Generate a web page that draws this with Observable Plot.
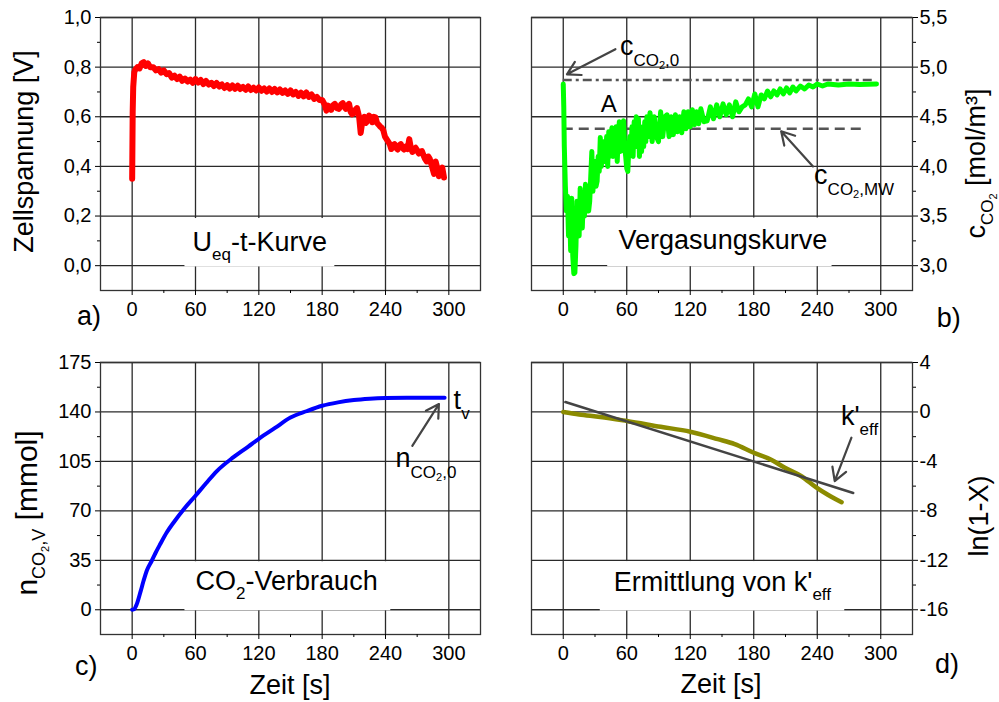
<!DOCTYPE html>
<html><head><meta charset="utf-8">
<script src="https://cdn.jsdelivr.net/npm/d3@7"></script>
<script src="https://cdn.jsdelivr.net/npm/@observablehq/plot@0.6"></script>
<style>
body{margin:0;background:#fff;}
#wrap{position:relative;width:999px;height:702px;overflow:hidden;background:#fff;}
#wrap svg{position:absolute;overflow:visible;}
</style></head><body><div id="wrap"></div>
<script>
// ---------- data ----------
const xTicks = [0, 60, 120, 180, 240, 300];
const xMinor = [30, 90, 150, 210, 270];

// a) cell voltage
const uTicks = [0, 0.2, 0.4, 0.6, 0.8, 1.0];
const uMinor = [0.1, 0.3, 0.5, 0.7, 0.9];
const uTime = [0,0.5,1,2,3,5,7,9,11,13,15,17,20,22.5,25,27.5,30,32.5,35,37.5,40,42.5,45,47.5,50,52.5,55,57.5,60,62.5,65,67.5,70,72.5,75,77.5,80,82.5,85,87.5,90,92.5,95,97.5,100,102.5,105,107.5,110,112.5,115,117.5,120,122.5,125,127.5,130,132.5,135,137.5,140,142.5,145,147.5,150,152.5,155,157.5,160,162.5,165,167.5,170,172.5,175,177.5,180,181,182.5,184,185.5,187,188.5,190,192,194,196,198,199.5,201,202.5,204,205.5,207,208.5,210,211.5,213,215,216.5,218,220,221.5,223,224.5,226,227.5,229,230.5,232,233.5,235,236.5,238,239.5,241,242.5,244,245.5,247,248.5,250,251.5,253,254.5,256,257.5,259,261,262.5,264,265.5,267,268.5,270,271.5,273,274.5,276,277.5,279,280.5,282,283,284,286,287.5,289,290.5,292,293.8,295.4];
const uVolt = [0.35,0.62,0.72,0.78,0.79,0.80,0.795,0.815,0.82,0.805,0.815,0.80,0.80,0.787,0.792,0.778,0.787,0.772,0.776,0.758,0.766,0.752,0.762,0.745,0.754,0.742,0.75,0.737,0.752,0.738,0.748,0.732,0.744,0.73,0.737,0.724,0.736,0.722,0.73,0.716,0.727,0.714,0.726,0.713,0.725,0.712,0.72,0.709,0.722,0.708,0.717,0.706,0.718,0.705,0.714,0.702,0.714,0.70,0.712,0.698,0.71,0.696,0.706,0.692,0.706,0.69,0.70,0.684,0.697,0.682,0.698,0.68,0.69,0.672,0.68,0.668,0.668,0.66,0.648,0.625,0.645,0.64,0.628,0.645,0.652,0.635,0.632,0.65,0.655,0.64,0.632,0.645,0.652,0.62,0.61,0.615,0.628,0.635,0.60,0.535,0.58,0.60,0.575,0.585,0.605,0.59,0.578,0.60,0.598,0.575,0.568,0.56,0.555,0.545,0.52,0.51,0.50,0.49,0.47,0.485,0.49,0.475,0.468,0.485,0.49,0.475,0.468,0.48,0.47,0.51,0.475,0.458,0.47,0.475,0.465,0.452,0.46,0.462,0.445,0.43,0.42,0.44,0.43,0.415,0.40,0.37,0.42,0.395,0.36,0.385,0.395,0.355];

// b) CO2 concentration
const cTicks = [3.0, 3.5, 4.0, 4.5, 5.0, 5.5];
const cMinor = [3.25, 3.75, 4.25, 4.75, 5.25];
const cTime = [0,0.5,1,2,3,4,5,6,7,8,9,10,11,12,13,14,15,16,17,18,19,20,21,22,23,24,25,26,27,28,29,30,31,32,33,34,35,36,37,38,39,40,41,42,43,44,45,46,47,48,49,50,51,52,53,54,55,56,57,58,59,60,61,62,63,64,65,66,67,68,69,70,71,72,73,74,75,76,77,78,79,80,82,84,86,88,90,92,94,96,98,100,102,104,106,108,110,112,114,116,118,120,122,124,126,128,130,133,136,139,142,145,148,151,154,157,160,163,166,169,172,175,178,181,184,187,190,193,196,199,202,205,208,211,214,217,220,224,228,232,236,240,245,250,260,270,280,296];
const cConc = [4.83,4.6,4.2,3.8,3.55,3.7,3.3,3.6,3.15,3.68,3.1,2.92,2.93,3.2,3.65,3.35,3.3,3.78,3.45,3.38,3.7,3.5,3.82,3.6,3.75,3.55,3.65,3.9,4.15,3.75,3.9,4.05,3.8,3.85,4.1,3.95,4.29,4.0,4.2,4.05,4.25,4.05,4.3,4.0,4.35,4.1,4.3,4.39,4.1,4.35,4.22,4.4,4.05,4.3,4.45,4.15,4.4,4.2,4.46,4.2,4.1,3.98,3.95,4.2,4.3,4.15,4.4,4.1,4.45,4.2,4.5,4.3,4.48,4.1,4.4,4.15,4.35,4.2,4.45,4.25,4.5,4.3,4.54,4.25,4.5,4.3,4.25,4.55,4.3,4.5,4.52,4.3,4.5,4.32,4.52,4.35,4.5,4.34,4.55,4.38,4.55,4.4,4.57,4.42,4.55,4.43,4.58,4.45,4.46,4.6,4.48,4.62,4.5,4.63,4.52,4.62,4.5,4.65,4.55,4.6,4.62,4.68,4.6,4.73,4.6,4.72,4.68,4.76,4.7,4.76,4.72,4.78,4.73,4.79,4.74,4.8,4.76,4.81,4.78,4.82,4.8,4.83,4.81,4.83,4.82,4.83,4.825,4.83];
const cStart = 4.87;   // c_CO2,0
const cMean = 4.38;    // c_CO2,MW

// c) CO2 consumption
const nTicks = [0, 35, 70, 105, 140, 175];
const nMinor = [17.5, 52.5, 87.5, 122.5, 157.5];
const nTime = [0,2,4.4,8,10.8,14,18.6,22,26.6,33,40,48.7,60,70,80,96,110,120,135,150,165,180,195,210,225,240,260,280,296];
const nMol  = [0,0.5,4,13,20.5,28,34.7,40,46.5,55,62.5,71,80.7,89.5,98,108,115.5,121,128.5,136,140.5,144.4,146.8,148.4,149.3,149.8,150,150,150];

// d) ln(1-X)
const lnTicks = [-16, -12, -8, -4, 0, 4];
const lnMinor = [-14, -10, -6, -2, 2];
const lnTime = [0,15,35,60,92,120,146,162,180,196,209,225,239,250,263];
const lnVal  = [0,-0.2,-0.4,-0.73,-1.2,-1.6,-2.2,-2.6,-3.3,-3.84,-4.5,-5.2,-6.1,-6.7,-7.3];
const fitTime = [2, 274];
const fitVal  = [0.8, -6.55];

// ---------- helpers ----------
const FONT = '"Liberation Sans", Arial, Helvetica, sans-serif';
const GRID = "#2a2a2a";
const wrap = document.getElementById("wrap");
const zipTV = (ts, vs) => ts.map((t, i) => ({t, v: vs[i]}));
const comma = d => d.toFixed(1).replace(".", ",");

function rich(svg, x, y, parts, anchor = "start", rotate = 0) {
  const t = d3.select(svg).append("text")
    .attr("transform", `translate(${x},${y})` + (rotate ? ` rotate(${rotate})` : ""))
    .attr("text-anchor", anchor).attr("font-family", FONT).attr("fill", "#000")
    .style("white-space", "pre");
  let prev = 0;
  for (const [txt, size, shift = 0] of parts) {
    t.append("tspan").attr("font-size", size).attr("dy", shift - prev).text(txt);
    prev = shift;
  }
}

function panel(cfg) {
  const plot = Plot.plot({
    width: cfg.w, height: cfg.h,
    marginLeft: cfg.ml, marginRight: cfg.mr, marginTop: cfg.mt, marginBottom: cfg.mb,
    style: {fontFamily: FONT, background: "transparent", color: "#000"},
    x: {domain: [-30, 330]},
    y: {domain: cfg.yDomain},
    marks: [
      Plot.gridX({ticks: xTicks, stroke: GRID, strokeOpacity: 1, strokeWidth: 1.3}),
      Plot.gridY({ticks: cfg.yTicks, stroke: GRID, strokeOpacity: 1, strokeWidth: 1.3}),
      Plot.rect([cfg.box], {x1: "x1", x2: "x2", y1: "y1", y2: "y2", fill: "#fff"}),
      Plot.frame({stroke: "#333", strokeWidth: 1.3}),
      Plot.axisX({ticks: xMinor, tickSize: 3, tickFormat: () => "", label: null}),
      Plot.axisX({ticks: xTicks, tickSize: 5, tickPadding: 6, fontSize: 20, tickFormat: d => String(d), label: null}),
      Plot.axisY({anchor: cfg.yAnchor, ticks: cfg.yMinor, tickSize: 3, tickFormat: () => "", label: null}),
      Plot.axisY({anchor: cfg.yAnchor, ticks: cfg.yTicks, tickSize: 5, tickPadding: cfg.yPad, fontSize: 20, tickFormat: cfg.yFmt, label: null}),
      ...cfg.marks
    ]
  });
  plot.style.left = cfg.left + "px";
  plot.style.top = cfg.top + "px";
  wrap.appendChild(plot);
  return plot;
}

const M = 27, S = 17, SS = 11;

// ---------- a ----------
const boxA = {x1: 50, x2: 192, y1: -0.005, y2: 0.19};
const pa = panel({
  left: 0, top: 0, w: 500, h: 340, ml: 100, mr: 20, mt: 17, mb: 50,
  yDomain: [-0.1, 1.0], yTicks: uTicks, yMinor: uMinor, yFmt: comma, yAnchor: "left", yPad: 4, box: boxA,
  marks: [Plot.line(zipTV(uTime, uVolt), {x: "t", y: "v", stroke: "#ff0000", strokeWidth: 6})]
});
{
  const sx = pa.scale("x"), sy = pa.scale("y");
  rich(pa, sx.apply(121.4), sy.apply(0.059), [["U", M], ["eq", S, 9], ["-t-Kurve", M, 0]], "middle");
  rich(pa, 33, 151.5, [["Zellspannung [V]", M]], "middle", -90);
  rich(pa, 77, 325, [["a)", M]]);
}

// ---------- b ----------
const boxB = {x1: 42, x2: 254, y1: 2.99, y2: 3.48};
const pb = panel({
  left: 500, top: 0, w: 499, h: 340, ml: 31, mr: 87, mt: 17, mb: 50,
  yDomain: [2.75, 5.5], yTicks: cTicks, yMinor: cMinor, yFmt: comma, yAnchor: "right", yPad: 2, box: boxB,
  marks: [
    Plot.ruleY([{y: cStart, x1: 0, x2: 294}], {y: "y", x1: "x1", x2: "x2", stroke: "#555", strokeWidth: 2.5, strokeDasharray: "9,4,3,4"}),
    Plot.ruleY([{y: cMean, x1: 0, x2: 283}], {y: "y", x1: "x1", x2: "x2", stroke: "#555", strokeWidth: 2.5, strokeDasharray: "10,6"}),
    Plot.line(zipTV(cTime, cConc), {x: "t", y: "v", stroke: "#00ff00", strokeWidth: 5}),
    Plot.arrow([{x1: 49.3, y1: 5.18, x2: 3.5, y2: 4.928}, {x1: 236, y1: 4.0, x2: 205.9, y2: 4.354}],
      {x1: "x1", y1: "y1", x2: "x2", y2: "y2", stroke: "#444", strokeWidth: 2.2, headLength: 10})
  ]
});
{
  const sx = pb.scale("x"), sy = pb.scale("y");
  rich(pb, sx.apply(151.3), sy.apply(3.158), [["Vergasungskurve", M]], "middle");
  rich(pb, sx.apply(36), sy.apply(4.54), [["A", 24]]);
  rich(pb, sx.apply(54), sy.apply(5.113), [["c", M], ["CO", S, 11], ["2", SS, 14], [",0", S, 11]]);
  rich(pb, sx.apply(237.5), sy.apply(3.815), [["c", M], ["CO", S, 11], ["2", SS, 14], [",MW", S, 11]]);
  rich(pb, 485, 163.5, [["c", M], ["CO", S, 8], ["2", SS, 12], ["\u00a0[mol/m³]", M, 0]], "middle", -90);
  rich(pb, 436.7, 326.7, [["b)", M]]);
}

// ---------- c ----------
const boxC = {x1: 50, x2: 245, y1: -0.7, y2: 34};
const pc = panel({
  left: 0, top: 340, w: 500, h: 362, ml: 100, mr: 20, mt: 22, mb: 68,
  yDomain: [-17.5, 175], yTicks: nTicks, yMinor: nMinor, yFmt: d => String(d), yAnchor: "left", yPad: 4, box: boxC,
  marks: [
    Plot.line(zipTV(nTime, nMol), {x: "t", y: "v", stroke: "#0000ff", strokeWidth: 4, curve: "monotone-x"}),
    Plot.arrow([{x1: 265.4, y1: 116, x2: 290.6, y2: 145.6}],
      {x1: "x1", y1: "y1", x2: "x2", y2: "y2", stroke: "#444", strokeWidth: 2.2, headLength: 10})
  ]
});
{
  const sx = pc.scale("x"), sy = pc.scale("y");
  rich(pc, sx.apply(146.8), sy.apply(13.4), [["CO", M], ["2", S, 9], ["-Verbrauch", M, 0]], "middle");
  rich(pc, sx.apply(305), sy.apply(142), [["t", M], ["v", S, 10]]);
  rich(pc, sx.apply(250), sy.apply(100.7), [["n", M], ["CO", S, 11], ["2", SS, 14], [",0", S, 11]]);
  rich(pc, 37, 173, [["n", 30], ["CO", 18, 8], ["2", SS, 12], [",V", 18, 8], ["\u00a0[mmol]", 30, 0]], "middle", -90);
  rich(pc, 290, 354, [["Zeit [s]", M]], "middle");
  rich(pc, 75, 335, [["c)", M]]);
}

// ---------- d ----------
const boxD = {x1: 35, x2: 266, y1: -16.1, y2: -12.1};
const pd = panel({
  left: 500, top: 340, w: 499, h: 362, ml: 31, mr: 87, mt: 22, mb: 68,
  yDomain: [-18, 4], yTicks: lnTicks, yMinor: lnMinor, yFmt: d => String(d), yAnchor: "right", yPad: 2, box: boxD,
  marks: [
    Plot.line(zipTV(lnTime, lnVal), {x: "t", y: "v", stroke: "#8b8b00", strokeWidth: 4.5, curve: "monotone-x"}),
    Plot.line(zipTV(fitTime, fitVal), {x: "t", y: "v", stroke: "#444", strokeWidth: 2.5}),
    Plot.arrow([{x1: 272.3, y1: -2.08, x2: 256.5, y2: -5.6}],
      {x1: "x1", y1: "y1", x2: "x2", y2: "y2", stroke: "#444", strokeWidth: 2.2, headLength: 10})
  ]
});
{
  const sx = pd.scale("x"), sy = pd.scale("y");
  rich(pd, sx.apply(150.8), sy.apply(-14.5), [["Ermittlung von k'", M], ["eff", S, 9]], "middle");
  rich(pd, sx.apply(262.8), sy.apply(-1.13), [["k'", M], ["eff", S, 10]]);
  rich(pd, 488, 176, [["ln(1-X)", M]], "middle", -90);
  rich(pd, 221, 353, [["Zeit [s]", M]], "middle");
  rich(pd, 435, 333.3, [["d)", M]]);
}
</script></body></html>
